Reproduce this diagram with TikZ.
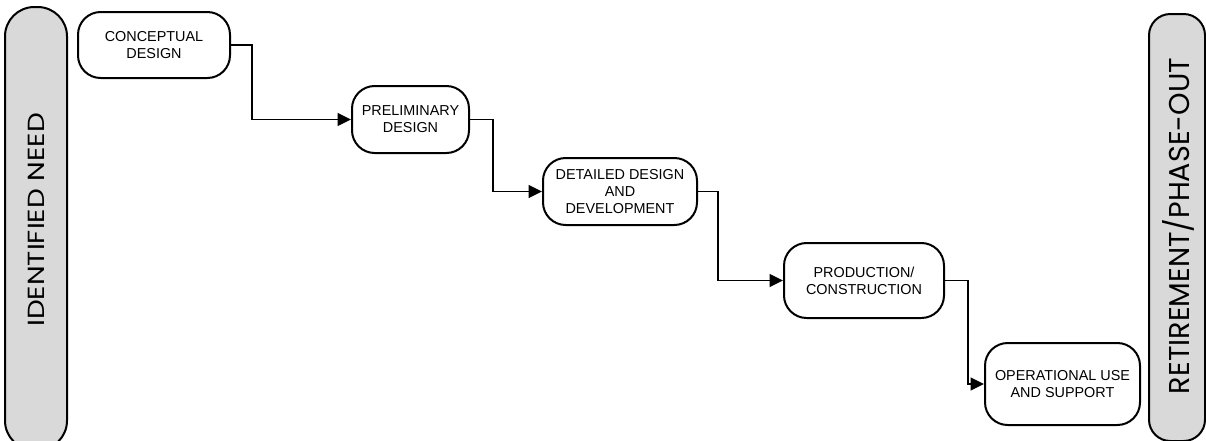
\documentclass[tikz,border=0pt]{standalone}
\usepackage{fontspec}
\setmainfont{Liberation Sans}
\newfontfamily\barfont{Poppins}
\newfontfamily\widebarfont[FakeStretch=1.2]{Poppins}
\usetikzlibrary{arrows.meta}

\tikzset{
  phase/.style={draw, line width=1.5pt, rounded corners=17pt, fill=white,
    align=center, inner sep=0pt, font=\fontsize{10.8}{12.8}\selectfont},
  sidebar/.style={draw, line width=1.5pt, fill=black!15},
  sidelabel/.style={rotate=90, inner sep=0pt},
  conn/.style={line width=1.4pt, -{Triangle[length=10pt,width=9.5pt]}}
}

\begin{document}
\begin{tikzpicture}[x=0.75pt,y=-0.75pt]
\useasboundingbox (0,0) rectangle (1206,440);

% side bars, running off the bottom edge
\begin{scope}
  \clip (0,0) rectangle (1206,440);
  \draw[sidebar, rounded corners=22pt] (5,7) rectangle (67,450);
  \draw[sidebar, rounded corners=16pt] (1149,14) rectangle (1205,441);
\end{scope}
\node[sidelabel, font=\widebarfont\fontsize{17.5}{20}\selectfont] (need) at (36,220) {IDENTIFIED NEED};
\node[sidelabel, font=\barfont\fontsize{21.5}{24}\selectfont] (retire) at (1178,226) {RETIREMENT/PHASE-OUT};

% life-cycle phases
\node[phase, minimum width=114pt, minimum height=49.5pt] (c1) at (154,45) {CONCEPTUAL\\DESIGN};
\node[phase, minimum width=87.75pt, minimum height=50.25pt] (c2) at (410.5,119.5) {PRELIMINARY\\DESIGN};
\node[phase, minimum width=115.5pt, minimum height=50.25pt] (c3) at (620,191.5) {DETAILED DESIGN\\AND\\DEVELOPMENT};
\node[phase, minimum width=120pt, minimum height=56.25pt] (c4) at (864,280.5) {PRODUCTION/\\CONSTRUCTION};
\node[phase, minimum width=116.25pt, minimum height=61.5pt] (c5) at (1062.5,384) {OPERATIONAL USE\\AND SUPPORT};

% elbow positions of the step connectors
\coordinate (k1) at (252,0);
\coordinate (k2) at (493,0);
\coordinate (k3) at (718,0);
\coordinate (k4) at (968,0);

\draw[conn] (c1.east) -- (c1.east -| k1) |- (c2.west);
\draw[conn] (c2.east) -- (c2.east -| k2) |- (c3.west);
\draw[conn] (c3.east) -- (c3.east -| k3) |- (c4.west);
\draw[conn] (c4.east) -- (c4.east -| k4) |- (c5.west);
\end{tikzpicture}
\end{document}
